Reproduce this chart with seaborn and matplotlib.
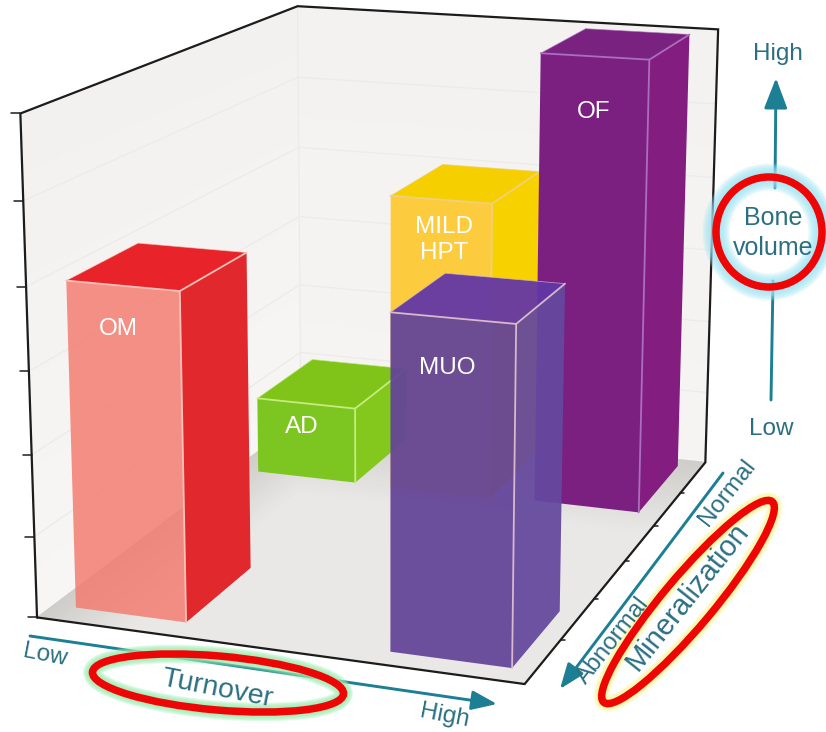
import numpy as np
import matplotlib
matplotlib.use("Agg")
import matplotlib.pyplot as plt
from matplotlib.patches import Polygon, Ellipse, FancyArrowPatch
import seaborn as sns

# Renal bone disease classes placed on turnover / mineralization / volume axes (each 0-1)
classes = ["MILD HPT", "OF", "AD", "OM", "MUO"]
turnover_low = [0.38, 0.71, 0.058, 0.048, 0.713]
turnover_high = [0.612, 0.947, 0.294, 0.286, 0.955]
mineral_low = [0.705, 0.72, 0.708, 0.053, 0.047]
mineral_high = [0.955, 0.966, 0.951, 0.286, 0.27]
bone_volume = [0.665, 0.993, 0.173, 0.665, 0.664]
tick_steps = [1, 2, 3, 4, 5]

# Camera calibration: where the corners of the unit cube fall on the canvas
cube_corners = np.array([[0, 0, 0], [1, 0, 0], [1, 1, 0], [0, 1, 0], [0, 0, 1], [0, 1, 1], [1, 1, 1]], float)
canvas_corners = np.array([[38, 617], [524, 685], [706, 461], [300, 420], [20, 113], [298, 6], [718, 30]], float)


def calibrate(world, canvas):
    rows = []
    for (X, Y, Z), (u, v) in zip(world, canvas):
        rows.append([X, Y, Z, 1, 0, 0, 0, 0, -u * X, -u * Y, -u * Z, -u])
        rows.append([0, 0, 0, 0, X, Y, Z, 1, -v * X, -v * Y, -v * Z, -v])
    return np.linalg.svd(np.array(rows))[2][-1].reshape(3, 4)


CAMERA = calibrate(cube_corners, canvas_corners)


def project(points):
    pts = np.atleast_2d(np.asarray(points, float))
    hom = np.c_[pts, np.ones(len(pts))] @ CAMERA.T
    return hom[:, :2] / hom[:, 2:]


sns.set_theme(style="white")
plt.rcParams["font.family"] = ["Liberation Sans", "DejaVu Sans"]

fig = plt.figure(figsize=(8.26, 7.32), dpi=100, facecolor="white")
ax = fig.add_axes([0, 0, 1, 1])
ax.set_xlim(0, 826)
ax.set_ylim(732, 0)
ax.axis("off")


def shaded_plane(func, colors, zorder=1):
    s, t = np.meshgrid(np.linspace(0, 1, 41), np.linspace(0, 1, 41))
    world, shade = func(s, t)
    xy = project(world.reshape(3, -1).T)
    cmap = sns.blend_palette(colors, as_cmap=True)
    ax.pcolormesh(xy[:, 0].reshape(s.shape), xy[:, 1].reshape(s.shape), shade,
                  shading="gouraud", cmap=cmap, vmin=0, vmax=1, zorder=zorder)


# Walls and floor of the box
shaded_plane(lambda s, t: (np.stack([0 * s, s, t]), t), ["#f7f6f5", "#f3f1ef"])
shaded_plane(lambda s, t: (np.stack([s, 1 + 0 * s, t]), t), ["#f5f4f3", "#f4f2f0"])
shaded_plane(lambda s, t: (np.stack([s, t, 0 * s]),
                           np.clip(np.maximum(1 - s / 0.2, (t - 0.62) / 0.38), 0, 1)),
             ["#eae8e6", "#cfcdca"])

# Wall grid lines
for k in range(1, 6):
    z = k / 6
    line = project([[0, 0, z], [0, 1, z], [1, 1, z]])
    ax.plot(line[:, 0], line[:, 1], color="#ecebe9", lw=0.9, zorder=2)
corner = project([[0, 1, 0], [0, 1, 1]])
ax.plot(corner[:, 0], corner[:, 1], color="#ecebe9", lw=0.9, zorder=2)

# Bar faces and their highlighted edges
face_styles = {
    "MILD HPT": dict(front="#fdcb3e", side="#f7d100", top="#f5cf00", edge="#f1cf7c", alpha=1.0),
    "OF": dict(front="#7b2080", side="#831e80", top="#7a2280", edge="#ab6dbd", alpha=1.0),
    "AD": dict(front="#7dc520", side="#84c81e", top="#80c41a", edge="#c5ec7c", alpha=1.0),
    "OM": dict(front="#f4796e", side="#e1282c", top="#e8242a", edge="#f8c0b8", alpha=0.82),
    "MUO": dict(front="#634498", side="#65499e", top="#6236a6", edge="#d6b9cc", alpha=0.94),
}


def draw_bar(name, x0, x1, y0, y1, h):
    st = face_styles[name]
    fl, fr = (x0, y0, h), (x1, y0, h)
    bl, br = (x0, y1, h), (x1, y1, h)
    fl0, fr0, br0 = (x0, y0, 0), (x1, y0, 0), (x1, y1, 0)
    z = 4
    side_alpha = st["alpha"] if st["alpha"] > 0.9 else 1.0
    ax.add_patch(Polygon(project([fr, br, br0, fr0]), fc=st["side"], ec="none", alpha=side_alpha, zorder=z))
    ax.add_patch(Polygon(project([fl, fr, br, bl]), fc=st["top"], ec="none", alpha=side_alpha, zorder=z))
    ax.add_patch(Polygon(project([fl, fr, fr0, fl0]), fc=st["front"], ec="none", alpha=st["alpha"], zorder=z))
    for seg in ([fl, fr], [fr, fr0], [fr, br]):
        p = project(seg)
        ax.plot(p[:, 0], p[:, 1], color=st["edge"], lw=1.3, zorder=z, solid_capstyle="round")
    for seg in ([fl, bl], [bl, br]):
        p = project(seg)
        ax.plot(p[:, 0], p[:, 1], color=st["edge"], lw=0.6, alpha=0.7, zorder=z)


for i, name in enumerate(classes):
    draw_bar(name, turnover_low[i], turnover_high[i], mineral_low[i], mineral_high[i], bone_volume[i])

# Box outline, drawn as the visible black edges
outline = project([[0, 0, 0], [0, 0, 1], [0, 1, 1], [1, 1, 1], [1, 1, 0], [1, 0, 0], [0, 0, 0]])
ax.plot(outline[:, 0], outline[:, 1], color="#1c1c1c", lw=1.6, zorder=5, solid_joinstyle="miter")

# Axis ticks on the volume edge and the mineralization edge
for k in range(0, 7):
    p = project([[0, 0, k / 6]])[0]
    ax.plot([p[0] - 9, p[0]], [p[1], p[1]], color="#1c1c1c", lw=1.1, zorder=5)
for k in tick_steps:
    p = project([[1, k / 6, 0]])[0]
    ax.plot([p[0], p[0] + 4], [p[1], p[1]], color="#1c1c1c", lw=1.1, zorder=5)

# Labels printed on the bars
for text, x, y in [("OM", 118, 329), ("AD", 302, 427), ("MILD\nHPT", 444, 240), ("MUO", 447, 368), ("OF", 594, 112)]:
    ax.text(x, y, text, color="white", fontsize=17.5, ha="center", va="center", zorder=7, linespacing=1.22)

# Teal axis arrows
teal = "#1c7f93"


def arrow(start, end, head=True, width=2.1, scale=14):
    style = "-|>,head_length=1.1,head_width=0.42" if head else "-"
    ax.add_patch(FancyArrowPatch(start, end, arrowstyle=style, mutation_scale=scale, color=teal, lw=width,
                                 shrinkA=0, shrinkB=0, zorder=6))


arrow((30, 636), (497, 704))
arrow((723, 473), (560, 689))
arrow((775, 188), (776, 78), scale=17)
arrow((771, 400), (773, 281), head=False)

# Axis captions
text_color = "#2b6f83"
captions = [
    ("Low", 45, 655, -11, 17.5), ("Turnover", 217, 689, -11, 20.5), ("High", 445, 716, -11, 17.5),
    ("Abnormal", 613, 641, 52, 17.5), ("Mineralization", 687, 597, 51.5, 21), ("Normal", 727, 493, 52, 17.5),
    ("High", 778, 54, 0, 17.5), ("Low", 771, 429, 0, 17.5), ("Bone", 773, 218, 0, 18), ("volume", 773, 248, 0, 18),
]
for text, x, y, rot, size in captions:
    ax.text(x, y, text, color=text_color, fontsize=size, rotation=rot, rotation_mode="anchor",
            ha="center", va="center", zorder=9)


# Red rings with a soft halo around the three axis names
def ring(cx, cy, w, h, angle, glow, spread, strength=0.28):
    for frac in np.linspace(1, 0.2, 7):
        ax.add_patch(Ellipse((cx, cy), w, h, angle=angle, fc="none", ec=glow, lw=3.6 + spread * frac,
                             alpha=strength, zorder=8))
    ax.add_patch(Ellipse((cx, cy), w, h, angle=angle, fc="none", ec="#ee0606", lw=5.4, zorder=10))


ring(218, 683, 252, 54, 5, "#9ceeb0", 10, 0.25)
ring(688, 602, 262, 50, -50, "#f9f79c", 8, 0.28)
ring(769, 232, 106, 110, 0, "#9fe4f5", 16, 0.22)

fig.savefig("out.png", dpi=100, facecolor="white")
